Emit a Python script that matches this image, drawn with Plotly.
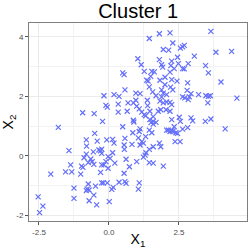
import plotly.graph_objects as go

x1 = [1.44, 1.80, 2.18, 3.64, 2.28, 2.55, 2.63, 2.69, 1.94, 2.13, 3.82, 4.38, 1.03, 1.80, 2.24, 2.45, 3.05,
      1.15, 1.88, 1.92, 2.21, 2.48, 2.83, 3.45, 2.33, 2.63, 2.69, 0.49, 0.54, 1.26, 1.53, 1.62, 2.18, 3.55,
      1.49, 2.00, 1.35, 1.40, 1.82, 2.24, 2.43, 2.81, 4.00, 2.00, 1.44, 2.20, 0.57, 1.88, 2.28, 2.79, 0.96,
      1.11, 1.56, 1.94, 2.93, -0.18, 0.18, 0.36, 1.68, 1.88, 2.06, 3.20, 2.63, 2.71, 2.83, 2.87, 3.46, 3.55,
      3.62, 4.57, 0.96, 1.37, 1.82, 2.06, 2.18, 3.53, -0.11, -0.06, 0.33, 0.68, 0.87, 0.99, 1.38, 1.94, 2.24,
      0.33, 0.65, 1.08, 1.17, 1.26, 1.31, 1.46, 1.76, 1.85, 2.04, 2.18, 2.51, 2.93, 3.64, -0.94, -0.53, 1.58,
      -0.23, 0.87, 1.46, 1.58, 2.24, 2.55, 2.99, 3.44,
      -1.81, -0.51, -0.81, -0.42, -1.43, -0.36, -0.30, -0.26, -0.26, -0.81, -0.89, -0.65, -0.60, -0.74, -0.54,
      -1.37, -0.98, -0.93, -0.26, -1.55, -1.33, -1.01, -2.08, -0.30, -0.26, -0.74, -0.78, -0.71, -0.81, -1.25,
      -0.54, -1.25, -0.71, -2.53, -0.44, -2.36, -2.48, -0.80, -0.56, -0.48,
      0.49, 0.89, 1.11, 1.08, 1.50, 1.58, 1.44, 1.53, 2.06, 2.18, 2.24, 0.85, 0.57, -0.08, 0.13, 0.18, 1.05,
      1.17, 1.23, 1.11, 1.31, 0.82, 0.54, 0.55, 1.58, 1.80, 1.85, 1.44, 1.32, 1.29, 1.23, 0.13, -0.03, 0.04,
      0.61, 0.99, 1.44, 1.58, 1.94, -0.11, -0.18, 0.21, -0.03, 0.73, 0.54, 0.57, 0.61, 0.36, -0.20, -0.06,
      1.08, 1.05, 0.15, 0.10, 0.01, 2.33, 2.28, 2.39, 2.45, 2.63, 2.81, 4.15, 2.36, 2.54, 2.12, 1.68]

x2 = [3.94, 4.10, 4.13, 4.18, 3.79, 3.62, 3.66, 3.71, 3.57, 3.55, 3.48, 3.51, 3.26, 3.23, 3.18, 3.31, 3.35,
      3.06, 3.06, 2.98, 3.03, 3.10, 3.10, 3.03, 2.93, 2.93, 2.92, 2.79, 2.73, 2.84, 2.84, 2.82, 2.81, 2.79,
      2.67, 2.64, 2.54, 2.51, 2.54, 2.56, 2.51, 2.45, 2.48, 2.39, 2.32, 2.31, 2.22, 2.22, 2.22, 2.20, 2.11,
      2.09, 2.15, 2.11, 2.09, 2.02, 2.06, 2.00, 2.02, 1.98, 2.06, 2.06, 1.98, 1.95, 1.89, 1.98, 2.02, 2.00,
      2.02, 1.94, 1.87, 1.87, 1.84, 1.81, 1.80, 1.78, 1.70, 1.64, 1.74, 1.78, 1.78, 1.67, 1.69, 1.78, 1.72,
      1.47, 1.50, 1.58, 1.47, 1.39, 1.35, 1.50, 1.50, 1.55, 1.55, 1.50, 1.30, 1.28, 1.24, 1.45, 1.42, 1.32,
      1.16, 1.20, 1.22, 1.16, 1.22, 1.16, 1.18, 1.16,
      0.96, 0.76, 0.54, 0.50, 0.18, 0.20, 0.17, 0.09, 0.23, 0.06, -0.06, -0.10, -0.19, -0.22, -0.28,
      -0.30, -0.34, -0.38, -0.30, -0.53, -0.53, -0.61, -0.61, -0.55, -0.90, -0.94, -1.11, -1.14, -1.16, -1.08,
      -1.31, -1.42, -1.50, -1.37, -1.64, -1.68, -1.90, 0.33, 0.14, -1.01,
      0.98, 1.14, 0.91, 0.82, 1.12, 1.07, 0.87, 0.78, 0.87, 0.82, 0.85, 0.78, 0.59, 0.54, 0.56, 0.43, 0.61,
      0.48, 0.43, 0.37, 0.65, 0.39, 0.37, 0.22, 0.31, 0.43, 0.31, 0.22, 0.11, 0.03, -0.04, 0.11, -0.02, -0.08,
      -0.11, -0.19, -0.22, -0.24, -0.34, -0.19, -0.30, -0.24, -0.41, -0.36, -0.58, -0.86, -0.92, -0.88, -0.90, -0.90,
      -0.90, -1.11, -1.05, -1.12, -1.53, 0.98, 0.82, 0.78, 0.76, 0.90, 0.95, 0.91, 0.48, 0.48, 0.87, 1.13]

x_ticks = [-2.5, 0.0, 2.5]
x_tick_labels = ["-2.5", "0.0", "2.5"]
y_ticks = [-2, 0, 2, 4]
y_tick_labels = ["-2", "0", "2", "4"]

fig = go.Figure(go.Scatter(
    x=x1, y=x2, mode="markers",
    marker=dict(symbol="x-thin-open", size=5,
                line=dict(color="rgba(0,0,255,0.85)", width=1.2)),
))

axis_common = dict(
    showline=True, linecolor="#7f7f7f", linewidth=1, mirror=True,
    ticks="outside", ticklen=3, tickcolor="#555555", tickwidth=1,
    tickfont=dict(size=8, color="#4d4d4d"),
    showgrid=True, gridcolor="#ebebeb", gridwidth=1,
    zeroline=False,
)

fig.update_layout(
    width=249, height=249,
    margin=dict(l=29, r=2, t=23, b=28),
    paper_bgcolor="white", plot_bgcolor="white",
    font=dict(family="Liberation Sans, Arial, sans-serif", color="black"),
    showlegend=False,
    title=dict(text="Cluster 1", x=0.555, xanchor="center", y=0.985, yanchor="top",
               font=dict(size=20, color="black")),
    xaxis=dict(range=[-2.857, 4.93], tickvals=x_ticks, ticktext=x_tick_labels,
               minor=dict(dtick=1.25, tick0=0, showgrid=True, gridcolor="#f2f2f2", gridwidth=0.6, ticks=""),
               title=dict(text="X<sub>1</sub>", font=dict(size=14), standoff=2),
               **axis_common),
    yaxis=dict(range=[-2.18, 4.46], tickvals=y_ticks, ticktext=y_tick_labels,
               minor=dict(dtick=1, tick0=0, showgrid=True, gridcolor="#f2f2f2", gridwidth=0.6, ticks=""),
               title=dict(text="X<sub>2</sub>", font=dict(size=14), standoff=2),
               **axis_common),
)

fig.write_html("out.html", config={"displayModeBar": False},
               post_script="document.body.style.margin='0px';document.body.style.overflow='hidden';")
